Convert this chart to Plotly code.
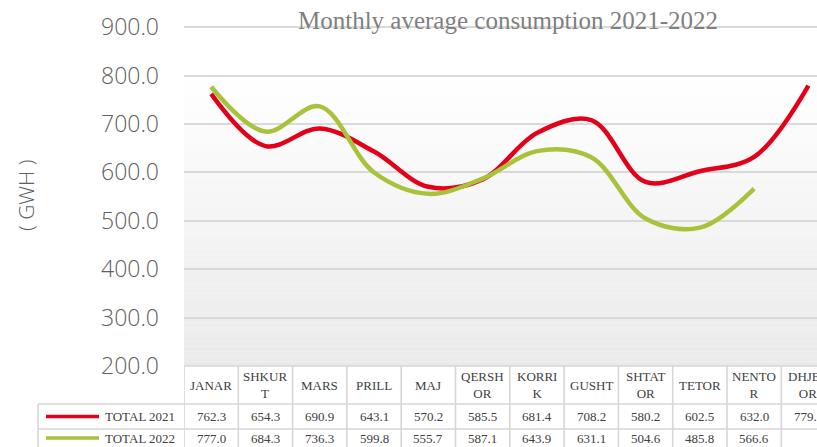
import plotly.graph_objects as go

# ---------------- data ----------------
months = ["JANAR", "SHKURT", "MARS", "PRILL", "MAJ", "QERSHOR", "KORRIK",
          "GUSHT", "SHTATOR", "TETOR", "NENTOR", "DHJETOR"]
total_2021 = [762.3, 654.3, 690.9, 643.1, 570.2, 585.5, 681.4, 708.2, 580.2, 602.5, 632.0, 779.5]
total_2022 = [777.0, 684.3, 736.3, 599.8, 555.7, 587.1, 643.9, 631.1, 504.6, 485.8, 566.6, None]
series_names = ["TOTAL 2021", "TOTAL 2022"]
y_ticks = [200, 300, 400, 500, 600, 700, 800, 900]
title_text = "Monthly average consumption 2021-2022"
y_title = "( GWH )"

# ---------------- layout constants ----------------
W, H = 817, 447
L = 184                      # left edge of plot area (px)
PW = W - L                   # plot area width (px)
COLW = 54.3                  # category width (px)
Y_BOTTOM_PX = 366            # pixel of y = 200
PX_PER_UNIT = 0.484
colors = ["#E2001A", "#A8C23C"]
grid_col = "#d9d9d9"
text_col = "#404040"
axis_txt = "#606060"
sans_light = dict(family="Open Sans, sans-serif", weight=300)


def px_x(p):
    """window pixel x -> paper x"""
    return (p - L) / PW


def px_y(p):
    """window pixel y -> paper y"""
    return (H - p) / H


def wrap(s, n=5):
    return "<br>".join(s[i:i + n] for i in range(0, len(s), n))


x_max = PW / COLW - 0.5
y_top = y_ticks[0] + Y_BOTTOM_PX / PX_PER_UNIT

fig = go.Figure()
for name, vals, c in zip(series_names, [total_2021, total_2022], colors):
    fig.add_trace(go.Scatter(
        x=list(range(len(months))), y=vals, name=name, mode="lines",
        line=dict(color=c, width=4.5, shape="spline", smoothing=1.0),
        connectgaps=False, showlegend=False,
        hovertemplate="%{y:.1f}<extra>" + name + "</extra>"))

shapes = []
# gradient background of the plot area (white -> light gray)
n_strips = 60
g_top, g_bot = 800, y_ticks[0]
for i in range(n_strips):
    t = (i + 0.5) / n_strips
    v = round(255 - t * (255 - 234))
    y1 = g_top - (g_top - g_bot) * i / n_strips
    y0 = g_top - (g_top - g_bot) * (i + 1) / n_strips
    shapes.append(dict(type="rect", xref="paper", yref="y", x0=0, x1=1, y0=y0, y1=y1,
                       fillcolor=f"rgb({v},{v},{v})", line=dict(width=0), layer="below"))

# table geometry (px)
hdr_top, hdr_bot, r1_bot, r2_bot = 366, 404, 429, 460
tbl_left = 38
bcol = "#d6d6d6"
bw = 1.6
shapes.append(dict(type="line", xref="paper", yref="paper", x0=0, x1=1.2,
                   y0=px_y(hdr_top), y1=px_y(hdr_top), line=dict(color=bcol, width=bw)))
for yy in [hdr_bot, r1_bot]:
    shapes.append(dict(type="line", xref="paper", yref="paper", x0=px_x(tbl_left), x1=1.2,
                       y0=px_y(yy), y1=px_y(yy), line=dict(color=bcol, width=bw)))
for i in range(len(months) + 1):
    shapes.append(dict(type="line", xref="x", yref="paper", x0=i - 0.5, x1=i - 0.5,
                       y0=px_y(hdr_top), y1=px_y(r2_bot), line=dict(color=bcol, width=bw)))
shapes.append(dict(type="line", xref="paper", yref="paper", x0=px_x(tbl_left), x1=px_x(tbl_left),
                   y0=px_y(hdr_bot), y1=px_y(r2_bot), line=dict(color=bcol, width=bw)))

annotations = []
serif = "Liberation Serif, Times New Roman, serif"
hdr_mid = (hdr_top + hdr_bot) / 2
row_mid = [(hdr_bot + r1_bot) / 2, 438]
for i, m in enumerate(months):
    annotations.append(dict(x=i, y=px_y(hdr_mid), xref="x", yref="paper", text=wrap(m),
                            showarrow=False, font=dict(family=serif, size=13, color=text_col),
                            xanchor="center", yanchor="middle"))
for r, vals in enumerate([total_2021, total_2022]):
    for i, v in enumerate(vals):
        if v is None:
            continue
        annotations.append(dict(x=i, y=px_y(row_mid[r]), xref="x", yref="paper",
                                text=f"{v:.1f}", showarrow=False,
                                font=dict(family=serif, size=13, color=text_col),
                                xanchor="center", yanchor="middle"))
    shapes.append(dict(type="line", xref="paper", yref="paper", x0=px_x(46), x1=px_x(99),
                       y0=px_y(row_mid[r]), y1=px_y(row_mid[r]),
                       line=dict(color=colors[r], width=3.5)))
    annotations.append(dict(x=px_x(103), y=px_y(row_mid[r]), xref="paper", yref="paper",
                            text=series_names[r], showarrow=False,
                            font=dict(family=serif, size=13, color=text_col),
                            xanchor="left", yanchor="middle"))

# y axis title
annotations.append(dict(x=px_x(26), y=px_y(196), xref="paper", yref="paper", text=y_title,
                        textangle=-90, showarrow=False,
                        font=dict(**sans_light, size=21, color=axis_txt),
                        xanchor="center", yanchor="middle"))

fig.update_layout(
    width=W, height=H,
    margin=dict(l=L, r=0, t=0, b=0, pad=0, autoexpand=False),
    paper_bgcolor="white", plot_bgcolor="white",
    title=dict(text=title_text, x=508 / W, xref="container", xanchor="center",
               y=1 - 20 / H, yref="container", yanchor="middle",
               font=dict(family=serif, size=25, color="#7f7f7f")),
    xaxis=dict(type="linear", range=[-0.5, x_max], showticklabels=False, showgrid=False,
               zeroline=False, showline=False, fixedrange=True, automargin=False),
    yaxis=dict(domain=[px_y(Y_BOTTOM_PX), 1], range=[y_ticks[0], y_top],
               tickvals=y_ticks, ticktext=[f"{v:.1f}" for v in y_ticks],
               tickfont=dict(**sans_light, size=23, color=axis_txt),
               ticklabelstandoff=24, automargin=False,
               showgrid=True, gridcolor=grid_col, gridwidth=1.5, zeroline=False,
               showline=False, ticks="", fixedrange=True),
    shapes=shapes, annotations=annotations,
)

fig.write_html(
    "out.html",
    config={"displayModeBar": False},
    post_script="document.body.style.margin='0';document.body.style.overflow='hidden';",
)
